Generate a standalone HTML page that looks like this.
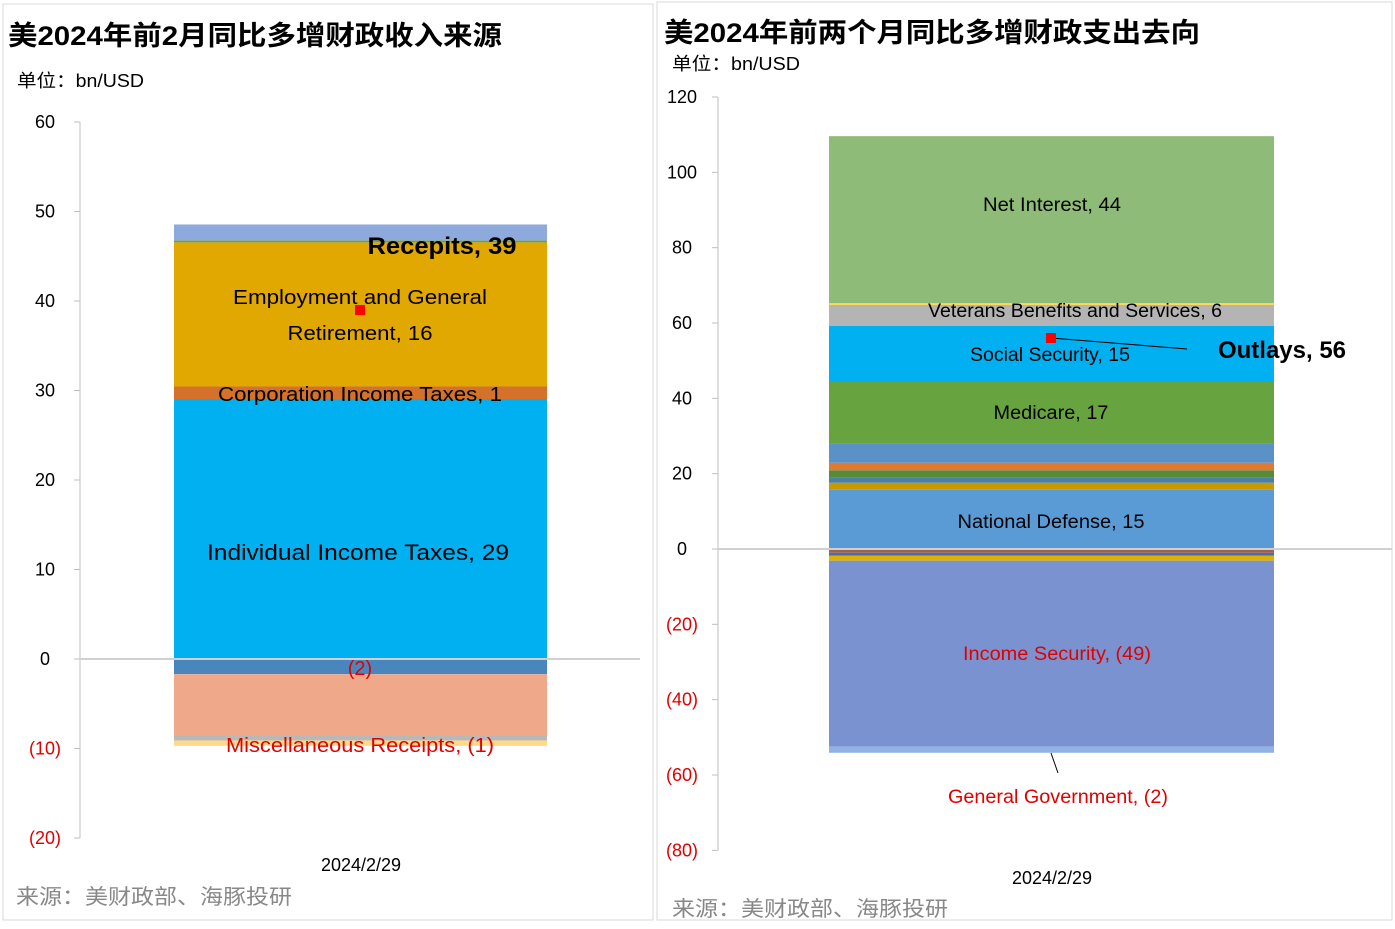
<!DOCTYPE html>
<html><head><meta charset="utf-8"><style>
body{margin:0;background:#fff;font-family:"Liberation Sans","Noto Sans CJK SC",sans-serif}
svg text{font-family:"Liberation Sans","Noto Sans CJK SC",sans-serif}
</style></head><body>
<svg id="s" width="1395" height="924">
<rect x="3" y="4" width="650" height="916" fill="#fff" stroke="#d9d9d9"/>
<rect x="657" y="2" width="735" height="918" fill="#fff" stroke="#d9d9d9"/>
<text x="8" y="45" font-size="27" font-weight="bold" textLength="494" lengthAdjust="spacingAndGlyphs">美2024年前2月同比多增财政收入来源</text>
<text x="17" y="87" font-size="18" textLength="127" lengthAdjust="spacingAndGlyphs">单位：bn/USD</text>
<text x="664" y="42" font-size="27" font-weight="bold" textLength="536" lengthAdjust="spacingAndGlyphs">美2024年前两个月同比多增财政支出去向</text>
<text x="672" y="70" font-size="18" textLength="128" lengthAdjust="spacingAndGlyphs">单位：bn/USD</text>
<text x="16" y="904" font-size="21" fill="#888" textLength="276" lengthAdjust="spacingAndGlyphs">来源：美财政部、海豚投研</text>
<text x="672" y="916" font-size="21" fill="#888" textLength="276" lengthAdjust="spacingAndGlyphs">来源：美财政部、海豚投研</text>
<text x="361" y="871" font-size="18" text-anchor="middle">2024/2/29</text>
<text x="1052" y="884" font-size="18" text-anchor="middle">2024/2/29</text>
<g id="g"></g>
</svg>
<script>
// left chart data
const leftTicks=[60,50,40,30,20,10,0,-10,-20];
const leftPosNames=["Individual Income Taxes","Corporation Income Taxes","Employment and General Retirement","Other1","Other2"];
const leftPosVals=[29.05,1.4,16.1,0.2,1.8];
const leftPosColors=["#00b0f0","#d4712a","#e0a800","#70a040","#8ea9db"];
const leftNegVals=[-1.7,-6.9,-0.5,-0.6];
const leftNegColors=["#4a86be","#f0a88a","#b8b8b8","#ffd88a"];
// right chart data
const rightTicks=[120,100,80,60,40,20,0,-20,-40,-60,-80];
const rightPosVals=[15.7,1.9,1.3,2,2,5,16.7,14.6,5.6,0.5,44.3];
const rightPosColors=["#5b9bd5","#c99a00","#4a7fa8","#548a3a","#e07a30","#5a92c8","#67a33f","#00b0f0","#b4b4b4","#ffd54f","#8fbb78"];
const rightNegVals=[-1,-0.8,-1.3,-49.4,-1.6];
const rightNegColors=["#a0604a","#4a6fa8","#e0b000","#7a92cf","#8fb4e3"];

const g=document.getElementById('g');const NS="http://www.w3.org/2000/svg";
function mk(t,a,txt){const e=document.createElementNS(NS,t);for(const k in a)e.setAttribute(k,a[k]);if(txt!==undefined)e.textContent=txt;g.appendChild(e);return e;}
function fmt(v){return v<0?"("+(-v)+")":String(v);}
function chart(c){
  const y=v=>c.y0+(v-c.v0)*(c.y1-c.y0)/(c.v1-c.v0);
  let ax=mk('line',{x1:c.ax,x2:c.ax,y1:y(c.ticks[0]),y2:y(c.ticks[c.ticks.length-1]),stroke:'#bfbfbf'});
  
  c.ticks.forEach(t=>{
    let l=mk('line',{x1:c.ax-6,x2:c.ax,y1:y(t),y2:y(t),stroke:'#bfbfbf'});
    
    let tx=mk('text',{x:c.lx,y:y(t)+6,'font-size':18,'text-anchor':'middle',fill:t<0?'#e00000':'#000'},fmt(t));
    
  });
  let cum=0;
  c.pos.forEach((v,i)=>{const a=y(cum),b=y(cum+v);cum+=v;
    let r=mk('rect',{x:c.bx,width:c.bw,y:b,height:a-b,fill:c.pc[i]});
    });
  cum=0;
  c.neg.forEach((v,i)=>{const a=y(cum),b=y(cum+v);cum+=v;
    let r=mk('rect',{x:c.bx,width:c.bw,y:a,height:b-a,fill:c.nc[i]});
    });
  let z=mk('line',{x1:c.ax,x2:c.zx2,y1:y(0),y2:y(0),stroke:'#d0d0d0','stroke-width':2});
  
}
chart({p:'left',ax:80,lx:45,zx2:640,bx:174,bw:373,y0:659,v0:0,y1:122,v1:60,ticks:leftTicks,pos:leftPosVals,pc:leftPosColors,neg:leftNegVals,nc:leftNegColors});
chart({p:'right',ax:718,lx:682,zx2:1392,bx:829,bw:445,y0:549,v0:0,y1:97,v1:120,ticks:rightTicks,pos:rightPosVals,pc:rightPosColors,neg:rightNegVals,nc:rightNegColors});
function lab(x,yy,t,o,w){let a=Object.assign({x:x,y:yy,'font-size':20,'text-anchor':'middle'},o||{});if(w){a.textLength=w;a.lengthAdjust='spacingAndGlyphs';}let e=mk('text',a,t);return e;}
lab(442,254,'Recepits, 39',{'font-weight':'bold','font-size':24},149);
lab(360,304,'Employment and General',{},254);lab(360,340,'Retirement, 16',{},145);
lab(360,401,'Corporation Income Taxes, 1',{},284);
lab(358,560,'Individual Income Taxes, 29',{'font-size':22},302);
lab(360,675,'(2)',{fill:'#e00000'});
lab(360,752,'Miscellaneous Receipts, (1)',{fill:'#e00000'},268);
lab(1052,211,'Net Interest, 44',{'font-size':19},138);
lab(1075,317,'Veterans Benefits and Services, 6',{'font-size':19},294);
lab(1050,361,'Social Security, 15',{'font-size':19},160);
lab(1051,419,'Medicare, 17',{'font-size':19},115);
lab(1051,528,'National Defense, 15',{'font-size':19},187);
lab(1057,660,'Income Security, (49)',{'font-size':19,fill:'#e00000'},188);
lab(1058,803,'General Government, (2)',{'font-size':19,fill:'#e00000'},220);
lab(1282,358,'Outlays, 56',{'font-weight':'bold','font-size':24},128);
let m=mk('line',{x1:1051,y1:338,x2:1187,y2:349,stroke:'#000'});
let m2=mk('line',{x1:1051,y1:753,x2:1058,y2:773,stroke:'#000'});
let p1=mk('rect',{x:355,y:305,width:10,height:10,fill:'#f00'});
let p2=mk('rect',{x:1046,y:333,width:10,height:10,fill:'#f00'});
</script>
</body></html>
